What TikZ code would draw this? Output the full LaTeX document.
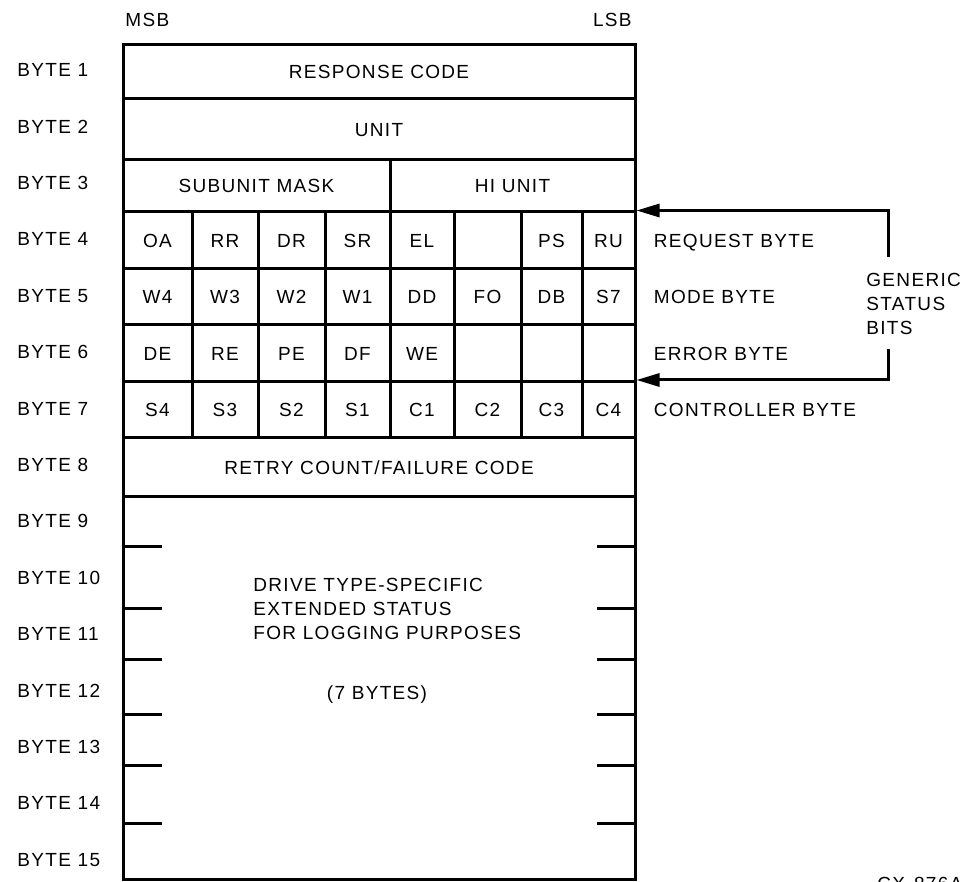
\documentclass[tikz,border=0pt]{standalone}
\usepackage{fontspec}
\setmainfont{Liberation Sans}[LetterSpace=7.0]
\usetikzlibrary{
  positioning,
  arrows.meta,
  fit
}

\begin{document}
\begin{tikzpicture}[
    x=0.5pt, y=-0.5pt,
    font=\fontsize{9.5pt}{12pt}\selectfont,
    >={Triangle[length=11.5pt, width=6.5pt]},
    % Text styles
    lbl/.style={inner sep=0pt, text height=6.8pt, text depth=0pt},
    note/.style={inner sep=0pt, align=left},
    % Field box styles
    field/.style={draw=black, line width=1.5pt, inner sep=0pt},
    txt/.style={label={[lbl]center:#1}},
    % Line styles
    tick/.style={line width=1.5pt},
    arr/.style={->, line width=1.5pt}
]
\useasboundingbox (0,0) rectangle (971,882);

% ==========================================
% FIELDS
% ==========================================

% --- Whole-byte fields ---
\node[field, fit={(123,45) (635,99)}, txt=RESPONSE CODE] (resp) {};
\node[field, fit={(123,99) (635,160)}, txt=UNIT] (unit) {};
\node[field, fit={(123,160) (390,212)}, txt=SUBUNIT MASK] (subunit) {};
\node[field, fit={(390,160) (635,212)}, txt=HI UNIT] (hiunit) {};

% --- Bit cells, bytes 4 to 7 ---
\def\colx{{123,192,258,325,390,454,521,582,635}}
\foreach \rowno/\ytop/\ybot/\bits in {
    4/212/268.5/{OA,RR,DR,SR,EL,{},PS,RU},
    5/268.5/325/{W4,W3,W2,W1,DD,FO,DB,S7},
    6/325/381.5/{DE,RE,PE,DF,WE,{},{},{}},
    7/381.5/438/{S4,S3,S2,S1,C1,C2,C3,C4}}{
  \foreach \bit [count=\col] in \bits {
    \pgfmathsetmacro\xl{\colx[\col-1]}
    \pgfmathsetmacro\xr{\colx[\col]}
    \node[field, fit={(\xl,\ytop) (\xr,\ybot)}, txt=\bit] (b\rowno c\col) {};
  }
}

\node[field, fit={(123,438) (635,497)}, txt={RETRY COUNT/FAILURE CODE}] (retry) {};

% --- Extended status, bytes 9 to 15 ---
\node[field, fit={(123,497) (635,879)}] (ext) {};
\foreach \y in {547,609,660,715,766,823} {
  \draw[tick] (ext.west |- 0,\y) -- ++(40,0);
  \draw[tick] (ext.east |- 0,\y) -- ++(-40,0);
}
\node[note, anchor=north west] (extnote) at (253,578)
  {DRIVE TYPE-SPECIFIC\\EXTENDED STATUS\\FOR LOGGING PURPOSES};
\node[lbl] (bytes7) at (377,693) {(7 BYTES)};

% ==========================================
% LABELS
% ==========================================
\node[lbl, anchor=west] (msb) at (125,20) {MSB};
\node[lbl, anchor=east] (lsb) at (632,20) {LSB};

\foreach \n in {1,...,15}
  \node[lbl, anchor=west] (byte\n) at (17,{70+56.4*(\n-1)}) {BYTE \n};

\node[lbl, right=8.5pt of b4c8] (reqbyte) {REQUEST BYTE};
\node[lbl, right=8.5pt of b5c8] (modebyte) {MODE BYTE};
\node[lbl, right=8.5pt of b6c8] (errbyte) {ERROR BYTE};
\node[lbl, right=8.5pt of b7c8] (ctlbyte) {CONTROLLER BYTE};

\node[note, anchor=north west] (generic) at (866,273) {GENERIC\\STATUS\\BITS};

\node[lbl, anchor=north west] (figid) at (877,877) {CX-876A};

% ==========================================
% GENERIC STATUS BRACKET
% ==========================================
\coordinate (gsup) at (888,257);
\coordinate (gsdown) at (888,349);
\draw[arr] (gsup) |- (b4c8.north east);
\draw[arr] (gsdown) |- (b7c8.north east);

\end{tikzpicture}
\end{document}
